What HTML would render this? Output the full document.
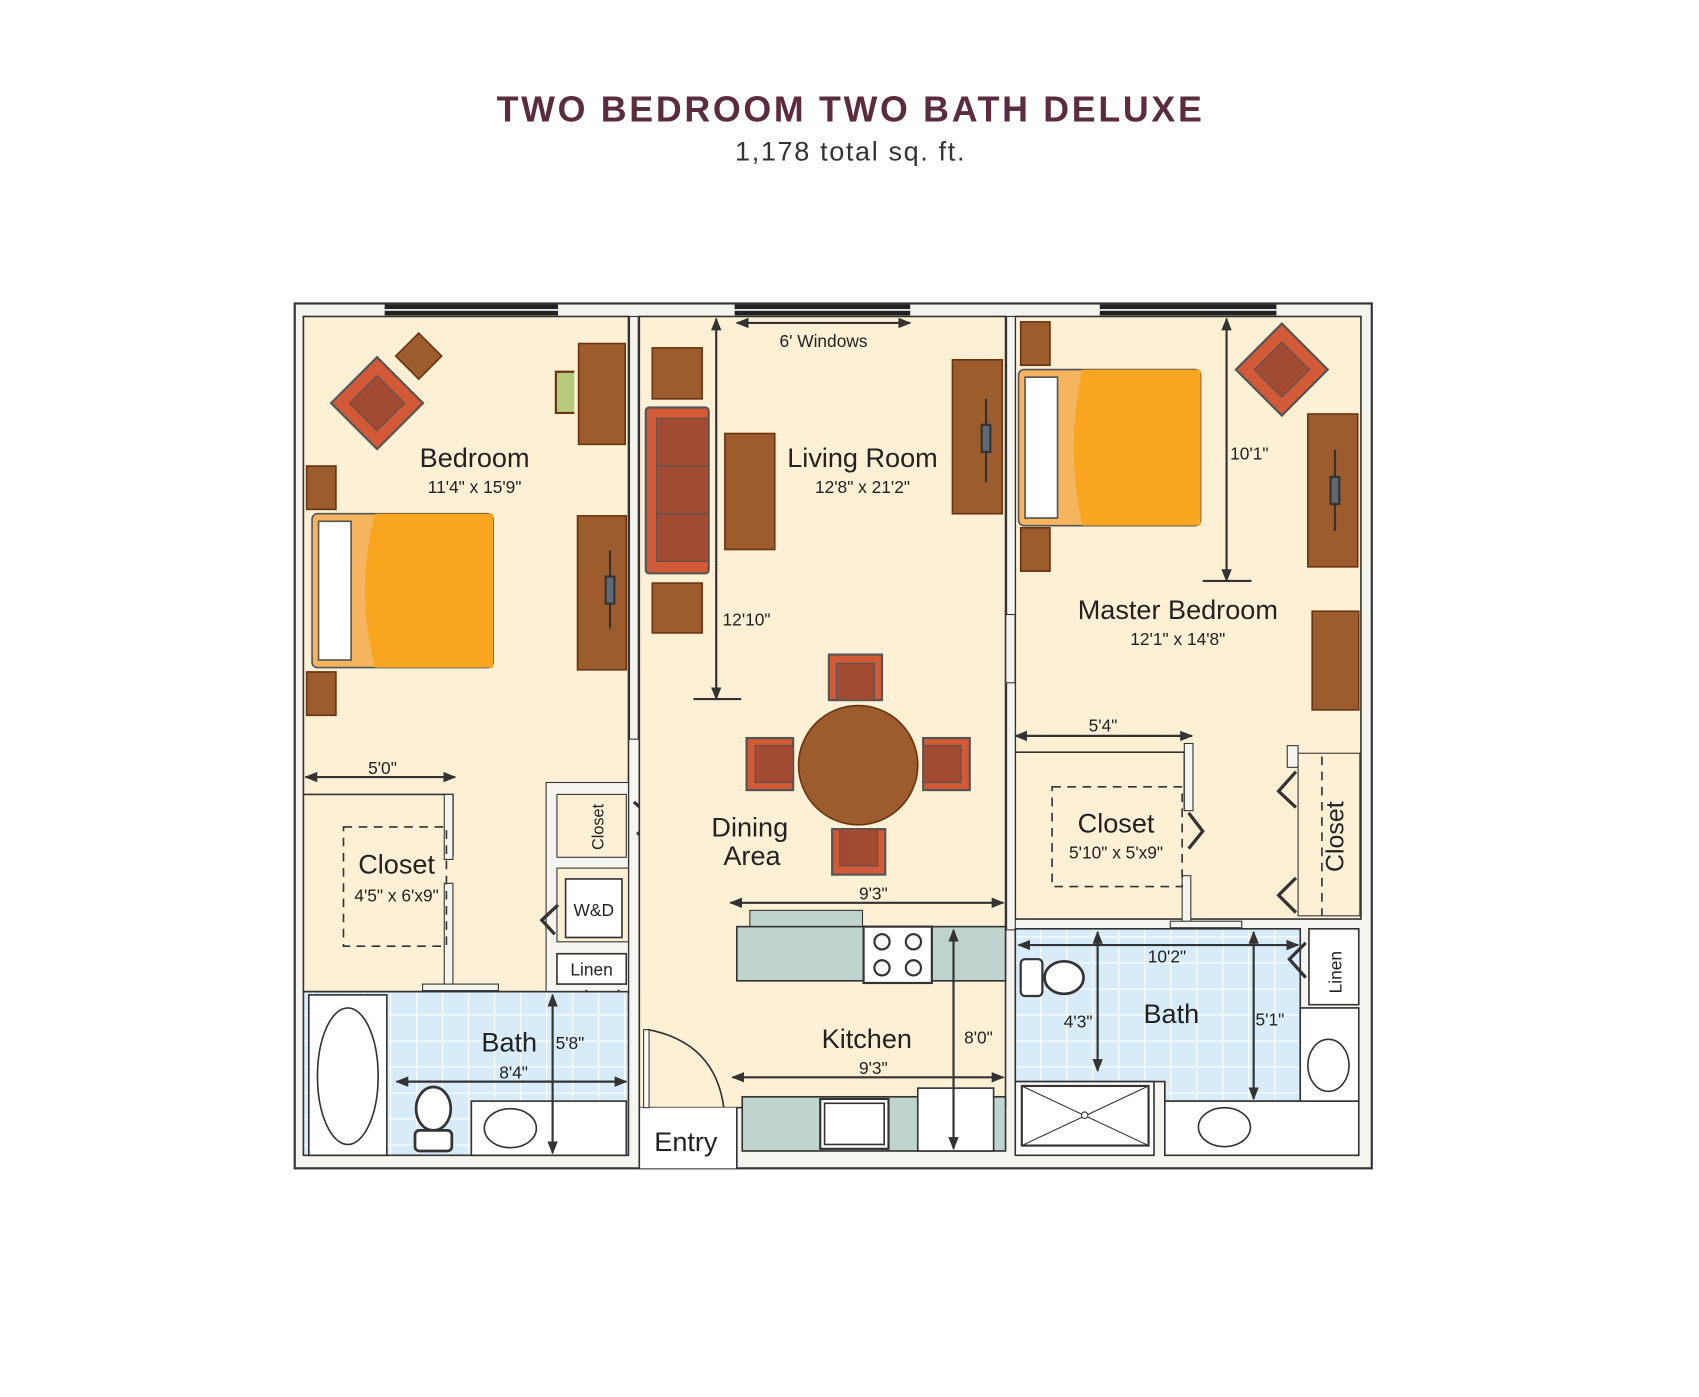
<!DOCTYPE html>
<html><head><meta charset="utf-8"><style>
html,body{margin:0;padding:0;background:#fff;width:1699px;height:1397px;overflow:hidden}
svg{display:block}
.t{font-family:"Liberation Sans Narrow","Liberation Sans",sans-serif;fill:#222;text-anchor:middle}
.d{stroke:#333;stroke-width:2;fill:none}
</style></head><body>
<svg width="1699" height="1397" viewBox="0 0 1568 1289" preserveAspectRatio="none" xmlns="http://www.w3.org/2000/svg">
<defs>
<pattern id="tile" width="24" height="24" patternUnits="userSpaceOnUse">
<rect width="24" height="24" fill="#d7ebf9"/>
<path d="M0 0H24M0 0V24" stroke="#fff" stroke-width="2"/>
</pattern>
<marker id="a" viewBox="0 0 10 10" refX="9" refY="5" markerWidth="6" markerHeight="6" orient="auto-start-reverse"><path d="M0 1L10 5L0 9Z" fill="#333"/></marker>
</defs>
<text x="785" y="112" style="font-family:'Liberation Sans',sans-serif;font-weight:bold;font-size:33px;fill:#5b2b3f;text-anchor:middle;letter-spacing:2.5px">TWO BEDROOM TWO BATH DELUXE</text>
<text x="785" y="148" style="font-family:'Liberation Sans',sans-serif;font-size:25px;fill:#333;text-anchor:middle;letter-spacing:1.5px">1,178 total sq. ft.</text>

<rect x="272" y="280" width="994" height="798" fill="#f5f4ee" stroke="#333" stroke-width="2"/>
<g fill="#222"><rect x="355" y="281" width="160" height="10"/><rect x="678" y="281" width="162" height="10"/><rect x="1015" y="281" width="163" height="10"/></g>
<g stroke="#fff" stroke-width="1.5"><path d="M355 286H515M678 286H840M1015 286H1178"/></g>

<rect x="280" y="292" width="300" height="623" fill="#fdf0d4" stroke="#333" stroke-width="1.5"/>
<path d="M280 733H418V790" fill="none" stroke="#333" stroke-width="1.5"/>
<rect x="410" y="733" width="8" height="60" fill="#f5f4ee" stroke="#333"/>
<rect x="410" y="815" width="8" height="95" fill="#f5f4ee" stroke="#333"/>
<rect x="390" y="908" width="70" height="6" fill="#f5f4ee" stroke="#333"/>
<rect x="317" y="763" width="95" height="110" fill="none" stroke="#333" stroke-dasharray="8 6" stroke-width="1.5"/>
<text class="t" x="366" y="806" font-size="25">Closet</text>
<text class="t" x="366" y="832" font-size="16">4'5" x 6'x9"</text>
<rect x="504" y="722" width="76" height="193" fill="#f5f4ee" stroke="#333"/>
<rect x="514" y="733" width="64" height="58" fill="#fdf0d4" stroke="#333"/>
<text class="t" x="557" y="763" font-size="15" transform="rotate(-90 557 763)">Closet</text>
<rect x="514" y="801" width="66" height="68" fill="#fdf0d4" stroke="#333"/>
<rect x="522" y="811" width="52" height="54" fill="#fff" stroke="#333" stroke-width="1.5"/>
<text class="t" x="548" y="845" font-size="16">W&amp;D</text>
<rect x="514" y="880" width="64" height="28" fill="#fff" stroke="#333" stroke-width="1.5"/>
<text class="t" x="546" y="900" font-size="16">Linen</text>
<path d="M585 740L604 756L588 770M515 835L500 849L512 862M540 914L556 930L572 914" fill="none" stroke="#333" stroke-width="3"/>

<rect x="280" y="915" width="300" height="151" fill="url(#tile)" stroke="#333" stroke-width="1.5"/>
<rect x="285" y="918" width="72" height="148" fill="#fff" stroke="#333" stroke-width="1.5"/>
<ellipse cx="321" cy="993" rx="28" ry="63" fill="#fff" stroke="#333" stroke-width="1.5"/>
<rect x="435" y="1016" width="143" height="50" fill="#fff" stroke="#333" stroke-width="1.5"/>
<ellipse cx="471" cy="1041" rx="24" ry="18" fill="#fff" stroke="#333" stroke-width="1.5"/>
<ellipse cx="400" cy="1023" rx="16" ry="20" fill="#fff" stroke="#333" stroke-width="2.5"/>
<rect x="383" y="1043" width="34" height="19" rx="4" fill="#fff" stroke="#333" stroke-width="2.5"/>
<text class="t" x="470" y="970" font-size="25">Bath</text>
<text class="t" x="526" y="968" font-size="16">5'8"</text>
<text class="t" x="474" y="995" font-size="16">8'4"</text>
<path class="d" d="M366 998H578" marker-start="url(#a)" marker-end="url(#a)"/>
<path class="d" d="M510 918V1064" marker-start="url(#a)" marker-end="url(#a)"/>

<rect x="590" y="292" width="338" height="730" fill="#fdf0d4" stroke="#333" stroke-width="1.5"/>
<rect x="590" y="1022" width="90" height="56" fill="#fff"/>
<path d="M590 1022V1078M680 1022V1078" stroke="#333" stroke-width="1.5"/>
<path d="M598 950Q660 962 668 1022" fill="none" stroke="#333" stroke-width="1.5"/>
<rect x="594" y="950" width="5" height="72" fill="#fff" stroke="#333"/>
<text class="t" x="633" y="1062" font-size="25">Entry</text>
<rect x="581" y="292" width="8" height="390" fill="#f5f4ee" stroke="#333"/>

<rect x="937" y="292" width="319" height="556" fill="#fdf0d4" stroke="#333" stroke-width="1.5"/>
<rect x="929" y="292" width="8" height="275" fill="#f5f4ee" stroke="#333"/>
<rect x="929" y="630" width="8" height="228" fill="#f5f4ee" stroke="#333"/>
<path d="M937 694H1093V748" fill="none" stroke="#333" stroke-width="1.5"/>
<rect x="1093" y="686" width="8" height="62" fill="#f5f4ee" stroke="#333"/>
<rect x="1091" y="808" width="8" height="45" fill="#f5f4ee" stroke="#333"/>
<rect x="1080" y="850" width="66" height="6" fill="#f5f4ee" stroke="#333"/>
<rect x="971" y="726" width="120" height="92" fill="none" stroke="#333" stroke-dasharray="8 6" stroke-width="1.5"/>
<text class="t" x="1030" y="768" font-size="25">Closet</text>
<text class="t" x="1030" y="792" font-size="16">5'10" x 5'x9"</text>
<rect x="1188" y="688" width="10" height="20" fill="#f5f4ee" stroke="#333"/>
<rect x="1198" y="695" width="57" height="150" fill="#fdf0d4" stroke="#333"/>
<path d="M1220 698V845" stroke="#333" stroke-dasharray="8 6" stroke-width="1.5"/>
<text class="t" x="1240" y="772" font-size="23" transform="rotate(-90 1240 772)">Closet</text>
<path d="M1196 712L1180 730L1196 745M1196 810L1180 826L1196 842M1097 750L1110 767L1097 783" fill="none" stroke="#333" stroke-width="3"/>

<path d="M937 857H1200V1016H1075V998H937Z" fill="url(#tile)" stroke="#333" stroke-width="1.5"/>
<rect x="937" y="998" width="128" height="68" fill="#fff" stroke="#333" stroke-width="1.5"/>
<rect x="943" y="1002" width="117" height="55" fill="none" stroke="#333" stroke-width="2"/>
<path d="M943 1002L1060 1057M1060 1002L943 1057" stroke="#333" stroke-width="1"/>
<circle cx="1001" cy="1029" r="3" fill="#fff" stroke="#333"/>
<rect x="1075" y="1016" width="179" height="50" fill="#fff" stroke="#333" stroke-width="1.5"/>
<ellipse cx="1130" cy="1040" rx="24" ry="18" fill="#fff" stroke="#333" stroke-width="1.5"/>
<rect x="1200" y="930" width="54" height="86" fill="#fff" stroke="#333" stroke-width="1.5"/>
<ellipse cx="1226" cy="983" rx="19" ry="24" fill="#fff" stroke="#333" stroke-width="1.5"/>
<rect x="1208" y="857" width="46" height="70" fill="#fff" stroke="#333" stroke-width="1.5"/>
<text class="t" x="1238" y="897" font-size="16" transform="rotate(-90 1238 897)">Linen</text>
<path d="M1205 870L1190 885L1205 902" fill="none" stroke="#333" stroke-width="3"/>
<ellipse cx="982" cy="902" rx="18" ry="15" fill="#fff" stroke="#333" stroke-width="2.5"/>
<rect x="942" y="885" width="20" height="34" rx="4" fill="#fff" stroke="#333" stroke-width="2"/>
<path class="d" d="M940 872H1198" marker-start="url(#a)" marker-end="url(#a)"/>
<path class="d" d="M1013 860V988" marker-start="url(#a)" marker-end="url(#a)"/>
<path class="d" d="M1157 860V1014" marker-start="url(#a)" marker-end="url(#a)"/>
<text class="t" x="1077" y="888" font-size="16">10'2"</text>
<text class="t" x="1081" y="944" font-size="25">Bath</text>
<text class="t" x="995" y="948" font-size="16">4'3"</text>
<text class="t" x="1172" y="946" font-size="16">5'1"</text>

<rect x="692" y="840" width="104" height="17" fill="#bfd3cf" stroke="#333"/>
<rect x="680" y="855" width="248" height="50" fill="#bfd3cf" stroke="#333" stroke-width="1.5"/>
<rect x="797" y="855" width="63" height="52" fill="#fff" stroke="#333" stroke-width="2"/>
<g fill="#fff" stroke="#333" stroke-width="2"><circle cx="814" cy="869" r="7"/><circle cx="843" cy="869" r="7"/><circle cx="814" cy="893" r="7"/><circle cx="843" cy="893" r="7"/></g>
<rect x="685" y="1012" width="243" height="50" fill="#bfd3cf" stroke="#333" stroke-width="1.5"/>
<rect x="757" y="1014" width="63" height="46" fill="#fff" stroke="#333" stroke-width="2"/>
<rect x="761" y="1018" width="55" height="38" fill="none" stroke="#333" stroke-width="1.5"/>
<rect x="847" y="1004" width="70" height="58" fill="#fff" stroke="#333" stroke-width="1.5"/>
<path class="d" d="M674 833H926" marker-start="url(#a)" marker-end="url(#a)"/>
<path class="d" d="M676 994H926" marker-start="url(#a)" marker-end="url(#a)"/>
<path class="d" d="M880 858V1060" marker-start="url(#a)" marker-end="url(#a)"/>
<text class="t" x="806" y="830" font-size="16">9'3"</text>
<text class="t" x="800" y="967" font-size="25">Kitchen</text>
<text class="t" x="806" y="991" font-size="16">9'3"</text>
<text class="t" x="903" y="963" font-size="16">8'0"</text>

<g fill="#9c5c2d" stroke="#6b3410" stroke-width="1.5">
<rect x="534" y="317" width="43" height="93"/>
<rect x="283" y="430" width="27" height="40"/>
<rect x="283" y="620" width="27" height="40"/>
<rect x="533" y="476" width="45" height="142"/>
<rect x="370" y="313" width="30" height="30" transform="rotate(45 385 330)"/>
<rect x="602" y="321" width="46" height="47"/>
<rect x="602" y="538" width="46" height="46"/>
<rect x="669" y="400" width="46" height="107"/>
<rect x="879" y="332" width="46" height="142"/>
<rect x="942" y="297" width="27" height="40"/>
<rect x="942" y="487" width="27" height="40"/>
<rect x="1207" y="382" width="46" height="141"/>
<rect x="1211" y="564" width="43" height="91"/>
<circle cx="792" cy="706" r="55"/>
</g>
<path d="M530 343H513V381H530" fill="#b7c97a" stroke="#6b3410" stroke-width="2"/>
<g stroke="#333" stroke-width="2" fill="#5e6975"><path d="M563 508V580M910 368V445M1232 415V490"/><rect x="559" y="532" width="8" height="25"/><rect x="906" y="392" width="8" height="25"/><rect x="1228" y="440" width="8" height="25"/></g>
<g fill="#d35a36" stroke="#555" stroke-width="2">
<rect x="318" y="342" width="60" height="60" transform="rotate(45 348 372)"/>
<rect x="1153" y="311" width="60" height="60" transform="rotate(45 1183 341)"/>
<rect x="596" y="376" width="58" height="153" rx="3"/>
<rect x="765" y="604" width="49" height="42"/>
<rect x="768" y="765" width="49" height="42"/>
<rect x="689" y="681" width="43" height="48"/>
<rect x="852" y="681" width="43" height="48"/>
</g>
<g fill="#a34a33" stroke="#555" stroke-width="1">
<rect x="330" y="354" width="36" height="36" transform="rotate(45 348 372)"/>
<rect x="1165" y="323" width="36" height="36" transform="rotate(45 1183 341)"/>
<rect x="606" y="386" width="48" height="44"/><rect x="606" y="430" width="48" height="44"/><rect x="606" y="474" width="48" height="44"/>
<rect x="772" y="612" width="35" height="34"/>
<rect x="775" y="765" width="35" height="34"/>
<rect x="697" y="688" width="35" height="34"/>
<rect x="852" y="688" width="35" height="34"/>
</g>
<rect x="288" y="474" width="167" height="142" rx="5" fill="#f5b45d" stroke="#555" stroke-width="1.5"/>
<path d="M346 474H455V616H346Q328 545 346 474Z" fill="#f8a51f"/>
<rect x="294" y="481" width="30" height="128" fill="#fff" stroke="#555" stroke-width="1.5"/>
<rect x="940" y="341" width="168" height="144" rx="5" fill="#f5b45d" stroke="#555" stroke-width="1.5"/>
<path d="M999 341H1108V485H999Q983 413 999 341Z" fill="#f8a51f"/>
<rect x="946" y="348" width="30" height="130" fill="#fff" stroke="#555" stroke-width="1.5"/>

<path class="d" d="M680 298H840" marker-start="url(#a)" marker-end="url(#a)"/>
<path class="d" d="M282 717H420" marker-start="url(#a)" marker-end="url(#a)"/>
<path class="d" d="M937 679H1100" marker-start="url(#a)" marker-end="url(#a)"/>
<path class="d" d="M661 294V645" marker-start="url(#a)" marker-end="url(#a)"/>
<path class="d" d="M1132 294V536" marker-start="url(#a)" marker-end="url(#a)"/>
<path class="d" d="M640 645H684M1110 536H1155"/>
<text class="t" x="438" y="431" font-size="25">Bedroom</text>
<text class="t" x="438" y="455" font-size="16">11'4" x 15'9"</text>
<text class="t" x="760" y="320" font-size="16">6' Windows</text>
<text class="t" x="796" y="431" font-size="25">Living Room</text>
<text class="t" x="796" y="455" font-size="16">12'8" x 21'2"</text>
<text class="t" x="689" y="577" font-size="16">12'10"</text>
<text class="t" x="1153" y="424" font-size="16">10'1"</text>
<text class="t" x="1087" y="571" font-size="25">Master Bedroom</text>
<text class="t" x="1087" y="595" font-size="16">12'1" x 14'8"</text>
<text class="t" x="353" y="714" font-size="16">5'0"</text>
<text class="t" x="1018" y="675" font-size="16">5'4"</text>
<text class="t" x="692" y="772" font-size="25">Dining</text>
<text class="t" x="694" y="798" font-size="25">Area</text>
</svg>
</body></html>
